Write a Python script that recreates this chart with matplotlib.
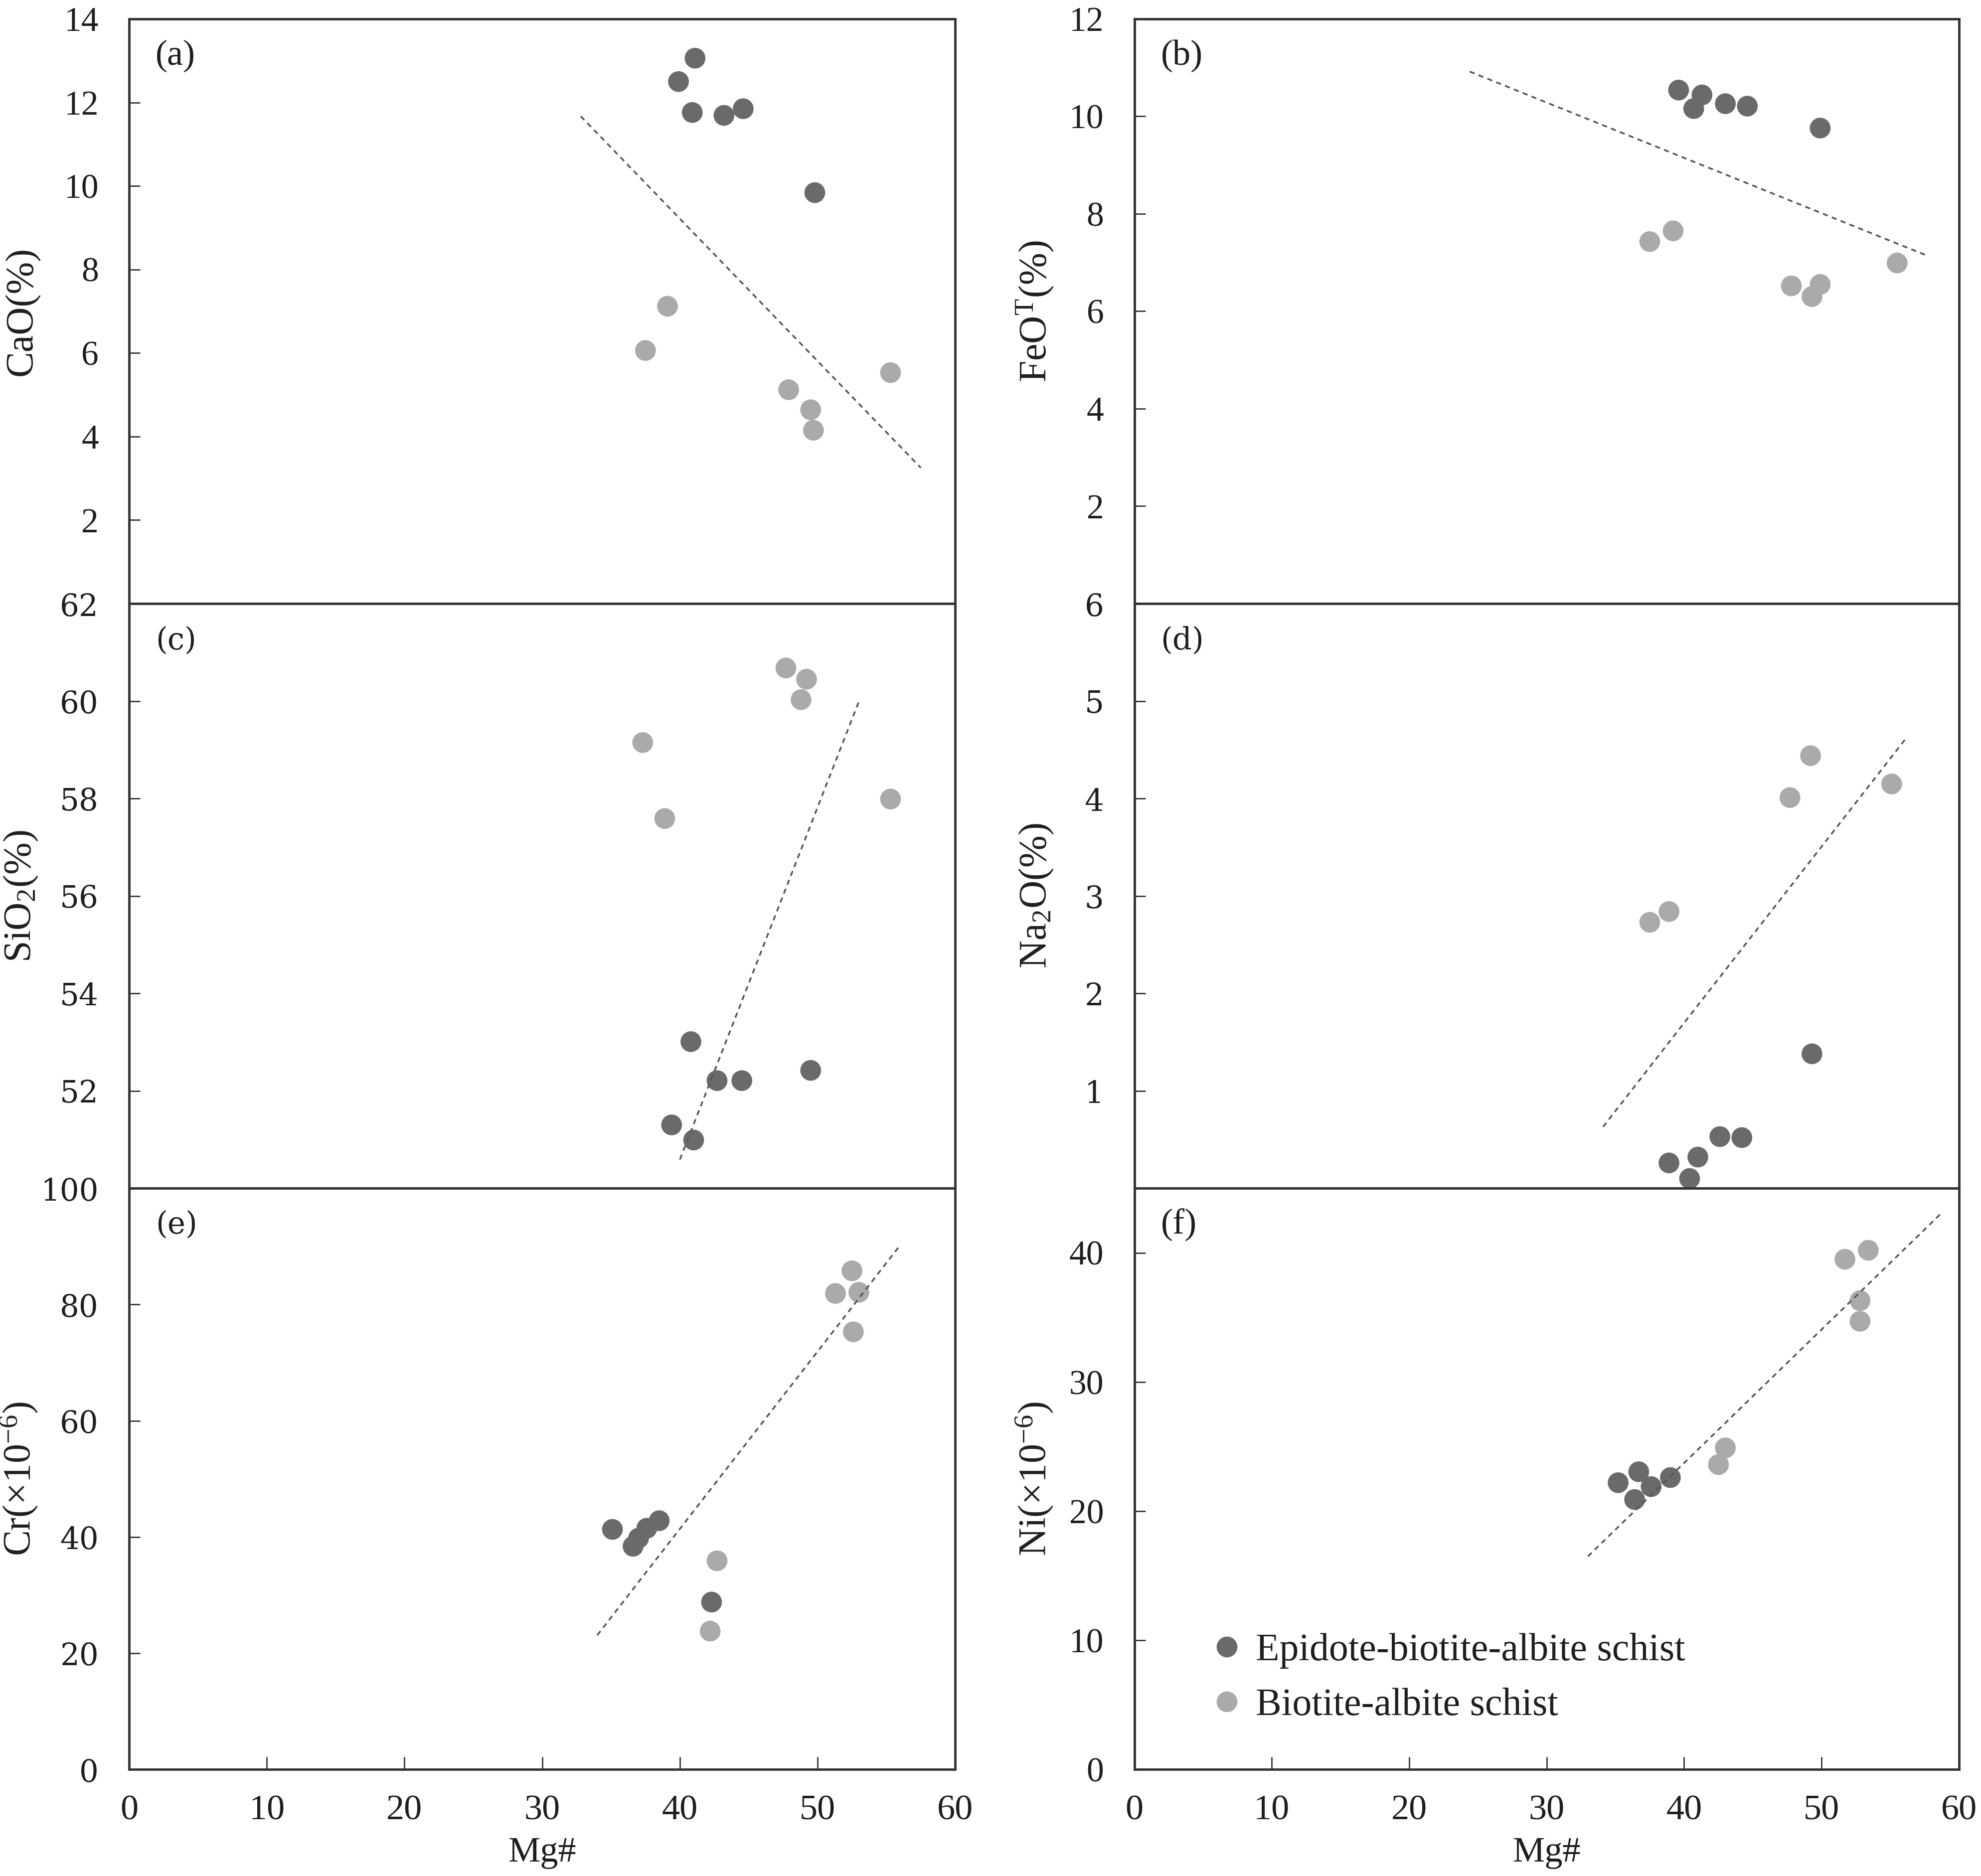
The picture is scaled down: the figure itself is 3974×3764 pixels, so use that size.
import matplotlib
matplotlib.use("Agg")
import matplotlib.pyplot as plt
from matplotlib.lines import Line2D

plt.rcParams['font.family'] = ['Liberation Serif', 'DejaVu Serif']
plt.rcParams['mathtext.fontset'] = 'custom'
plt.rcParams['mathtext.rm'] = 'Liberation Serif'
plt.rcParams['mathtext.it'] = 'Liberation Serif:italic'
plt.rcParams['mathtext.default'] = 'regular'

# ---------------- data (Mg# vs oxide / trace element) ----------------
series_names = ["Epidote-biotite-albite schist", "Biotite-albite schist"]

# (a) CaO
a_dark_x = [41.1, 39.9, 40.9, 43.2, 44.6, 49.8]
a_dark_y = [13.06, 12.50, 11.76, 11.69, 11.85, 9.84]
a_light_x = [39.1, 37.5, 47.9, 49.5, 49.7, 55.3]
a_light_y = [7.12, 6.06, 5.12, 4.64, 4.15, 5.53]
a_trend_x = [32.8, 57.5]
a_trend_y = [11.67, 3.25]

# (b) FeOT
b_dark_x = [39.6, 41.3, 40.7, 43.0, 44.6, 49.9]
b_dark_y = [10.54, 10.44, 10.16, 10.26, 10.21, 9.76]
b_light_x = [37.5, 39.2, 47.8, 49.9, 49.3, 55.5]
b_light_y = [7.43, 7.65, 6.52, 6.55, 6.30, 6.99]
b_trend_x = [24.4, 57.6]
b_trend_y = [10.92, 7.15]

# (c) SiO2
c_dark_x = [40.8, 42.7, 44.5, 49.5, 39.4, 41.0]
c_dark_y = [53.01, 52.21, 52.21, 52.42, 51.30, 50.99]
c_light_x = [47.7, 49.2, 48.8, 37.3, 38.9, 55.3]
c_light_y = [60.68, 60.45, 60.03, 59.15, 57.59, 57.99]
c_trend_x = [40.0, 53.0]
c_trend_y = [50.59, 59.99]

# (d) Na2O
d_dark_x = [49.3, 42.6, 44.2, 41.0, 38.9, 40.4]
d_dark_y = [1.38, 0.53, 0.52, 0.32, 0.26, 0.10]
d_light_x = [49.2, 47.7, 55.1, 38.9, 37.5]
d_light_y = [4.44, 4.01, 4.15, 2.84, 2.73]
d_trend_x = [34.1, 56.1]
d_trend_y = [0.63, 4.61]

# (e) Cr
e_dark_x = [35.1, 38.5, 37.6, 36.6, 37.0, 42.3]
e_dark_y = [41.3, 42.8, 41.5, 38.4, 39.8, 28.8]
e_light_x = [52.5, 51.3, 53.0, 52.6, 42.7, 42.2]
e_light_y = [85.8, 81.9, 82.1, 75.3, 35.9, 23.8]
e_trend_x = [34.0, 55.9]
e_trend_y = [23.1, 89.9]

# (f) Ni
f_dark_x = [35.2, 36.7, 37.6, 39.0, 36.4]
f_dark_y = [22.2, 23.05, 21.9, 22.6, 20.9]
f_light_x = [53.4, 51.7, 52.8, 52.8, 43.0, 42.5]
f_light_y = [40.2, 39.5, 36.3, 34.7, 24.9, 23.6]
f_trend_x = [33.0, 58.7]
f_trend_y = [16.5, 43.05]

x_ticks = [0, 10, 20, 30, 40, 50, 60]

# ---------------- style ----------------
DARK = '#6a6a6a'
LIGHT = '#aaaaaa'
EDGE = '#333333'
TXT = '#1e1e1e'

fig = plt.figure(figsize=(39.74, 37.64), dpi=100)

col_left = [0.0652, 0.5726]
col_w = [0.4170, 0.4163]
row_bottom = [0.6783, 0.3666, 0.0568]
row_h = [0.3116, 0.3116, 0.3098]

panels = [
    dict(tag='(a)', row=0, col=0, dx=a_dark_x, dy=a_dark_y, lx=a_light_x, ly=a_light_y,
         tx=a_trend_x, ty=a_trend_y, ylim=(0, 14), yticks=[2, 4, 6, 8, 10, 12, 14],
         ylabel='CaO(%)', wide=False),
    dict(tag='(b)', row=0, col=1, dx=b_dark_x, dy=b_dark_y, lx=b_light_x, ly=b_light_y,
         tx=b_trend_x, ty=b_trend_y, ylim=(0, 12), yticks=[2, 4, 6, 8, 10, 12],
         ylabel=r'FeO$^{\mathrm{T}}$(%)', wide=False),
    dict(tag='(c)', row=1, col=0, dx=c_dark_x, dy=c_dark_y, lx=c_light_x, ly=c_light_y,
         tx=c_trend_x, ty=c_trend_y, ylim=(50, 62), yticks=[52, 54, 56, 58, 60, 62],
         ylabel=r'SiO$_2$(%)', wide=True),
    dict(tag='(d)', row=1, col=1, dx=d_dark_x, dy=d_dark_y, lx=d_light_x, ly=d_light_y,
         tx=d_trend_x, ty=d_trend_y, ylim=(0, 6), yticks=[1, 2, 3, 4, 5, 6],
         ylabel=r'Na$_2$O(%)', wide=True),
    dict(tag='(e)', row=2, col=0, dx=e_dark_x, dy=e_dark_y, lx=e_light_x, ly=e_light_y,
         tx=e_trend_x, ty=e_trend_y, ylim=(0, 100), yticks=[0, 20, 40, 60, 80, 100],
         ylabel=r'Cr($\times$10$^{-6}$)', wide=True),
    dict(tag='(f)', row=2, col=1, dx=f_dark_x, dy=f_dark_y, lx=f_light_x, ly=f_light_y,
         tx=f_trend_x, ty=f_trend_y, ylim=(0, 45), yticks=[0, 10, 20, 30, 40],
         ylabel=r'Ni($\times$10$^{-6}$)', wide=False),
]

for p in panels:
    r, c = p['row'], p['col']
    ax = fig.add_axes([col_left[c], row_bottom[r], col_w[c], row_h[r]])
    ax.scatter(p['dx'], p['dy'], s=900, c=DARK, edgecolors='none', zorder=3,
               label=series_names[0])
    ax.scatter(p['lx'], p['ly'], s=900, c=LIGHT, edgecolors='none', zorder=3,
               label=series_names[1])
    ax.plot(p['tx'], p['ty'], color='#555555', lw=2.5, ls=(0, (3, 2.5)), zorder=4)
    ax.set_xlim(0, 60)
    ax.set_ylim(*p['ylim'])
    ax.set_yticks(p['yticks'])
    for s in ax.spines.values():
        s.set_linewidth(3.5)
        s.set_color(EDGE)
        s.set_zorder(5)
    if p['wide']:
        ax.tick_params(axis='y', direction='in', length=16, width=2, pad=44,
                       labelsize=44, color=EDGE, labelcolor=TXT)
        for lbl in ax.get_yticklabels():
            lbl.set_fontfamily('DejaVu Serif')
    else:
        ax.tick_params(axis='y', direction='in', length=16, width=2, pad=44,
                       labelsize=50, color=EDGE, labelcolor=TXT)
    if r == 2:
        ax.set_xticks(x_ticks)
        ax.tick_params(axis='x', direction='in', length=18, width=2, pad=36,
                       labelsize=52, color=EDGE, labelcolor=TXT)
        ax.set_xlabel('Mg#', fontsize=52, color=TXT, labelpad=14)
    else:
        ax.set_xticks([])
    ax.set_ylabel(p['ylabel'], fontsize=56, color=TXT)
    ax.yaxis.set_label_coords(-0.108 if c == 0 else -0.096, 0.5)
    if p['wide']:
        ax.text(0.032, 0.937, p['tag'], transform=ax.transAxes, fontsize=44,
                family='DejaVu Serif', ha='left', va='center', color=TXT)
    else:
        ax.text(0.032, 0.937, p['tag'], transform=ax.transAxes, fontsize=52,
                ha='left', va='center', color=TXT)
    if p['tag'] == '(f)':
        handles = [Line2D([], [], ls='none', marker='o', markersize=30,
                          markerfacecolor=DARK, markeredgecolor='none'),
                   Line2D([], [], ls='none', marker='o', markersize=30,
                          markerfacecolor=LIGHT, markeredgecolor='none')]
        ax.legend(handles, series_names, loc='lower left',
                  bbox_to_anchor=(0.065, 0.032), frameon=False, fontsize=56,
                  handlelength=0.6, handletextpad=0.45, labelspacing=0.5,
                  borderpad=0.2, labelcolor=TXT)

fig.savefig('out.png', dpi=100, facecolor='white')
